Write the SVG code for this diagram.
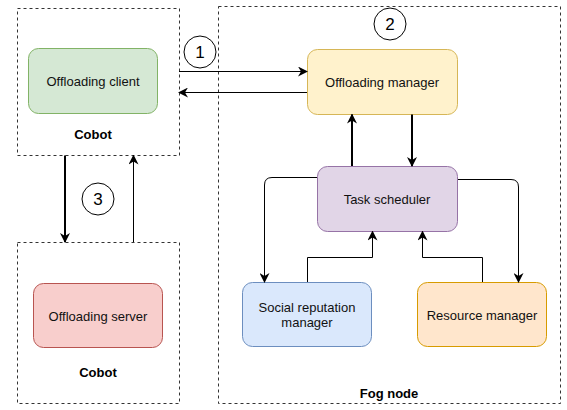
<svg xmlns="http://www.w3.org/2000/svg" width="567" height="410" viewBox="0 0 567 410">
  <style>
    .frame { fill: none; stroke: #333; stroke-width: 1; stroke-dasharray: 3 3; }
    .node { stroke-width: 1; }
    .lbl { font-family: "Liberation Sans", Arial, sans-serif; font-size: 13px; fill: #111; text-anchor: middle; dominant-baseline: central; }
    .title { font-family: "Liberation Sans", Arial, sans-serif; font-size: 13px; font-weight: bold; fill: #000; text-anchor: middle; dominant-baseline: central; }
    .num { font-family: "Liberation Sans", Arial, sans-serif; font-size: 17px; fill: #000; text-anchor: middle; dominant-baseline: central; }
    .badge { fill: #fff; stroke: #000; stroke-width: 1; }
    .wire { fill: none; stroke: #000; stroke-width: 1; }
    .thick { fill: none; stroke: #000; stroke-width: 2; }
  </style>
  <defs>
    <marker id="arrow" viewBox="0 0 10 10" refX="9" refY="5" markerWidth="10" markerHeight="10" markerUnits="userSpaceOnUse" orient="auto">
      <path d="M0,0 L10,5 L0,10 L3,5 Z" fill="#000"/>
    </marker>
  </defs>

  <rect width="567" height="410" fill="#fff"/>

  <!-- containers -->
  <g id="cobot-top">
    <rect class="frame" x="17.5" y="8.5" width="162" height="147"/>
    <text class="title" x="93" y="134">Cobot</text>
  </g>
  <g id="cobot-bottom">
    <rect class="frame" x="17.5" y="242.5" width="162" height="161"/>
    <text class="title" x="98" y="372">Cobot</text>
  </g>
  <g id="fog-node">
    <rect class="frame" x="218.5" y="6.5" width="342" height="397"/>
    <text class="title" x="389" y="393">Fog node</text>
  </g>

  <!-- nodes -->
  <g id="offloading-client">
    <rect class="node" x="28.5" y="48.5" width="129" height="65" rx="10" fill="#d5e8d4" stroke="#82b366"/>
    <text class="lbl" x="93" y="81">Offloading client</text>
  </g>
  <g id="offloading-server">
    <rect class="node" x="33.5" y="283.5" width="129" height="64" rx="10" fill="#f8cecc" stroke="#b85450"/>
    <text class="lbl" x="98" y="316">Offloading server</text>
  </g>
  <g id="offloading-manager">
    <rect class="node" x="307.5" y="49.5" width="150" height="65" rx="10" fill="#fff2cc" stroke="#d6b656"/>
    <text class="lbl" x="382" y="82">Offloading manager</text>
  </g>
  <g id="task-scheduler">
    <rect class="node" x="317.5" y="166.5" width="140" height="65" rx="10" fill="#e1d5e7" stroke="#9673a6"/>
    <text class="lbl" x="387" y="199">Task scheduler</text>
  </g>
  <g id="social-reputation-manager">
    <rect class="node" x="242.5" y="282.5" width="129" height="64" rx="10" fill="#dae8fc" stroke="#6c8ebf"/>
    <text class="lbl" x="307" y="307">Social reputation</text>
    <text class="lbl" x="307" y="322">manager</text>
  </g>
  <g id="resource-manager">
    <rect class="node" x="417.5" y="282.5" width="129" height="64" rx="10" fill="#ffe6cc" stroke="#d79b00"/>
    <text class="lbl" x="482" y="315">Resource manager</text>
  </g>

  <!-- step badges -->
  <g id="step-1">
    <circle class="badge" cx="200" cy="52" r="16"/>
    <text class="num" x="200" y="52">1</text>
  </g>
  <g id="step-2">
    <circle class="badge" cx="390" cy="24" r="16"/>
    <text class="num" x="390" y="24">2</text>
  </g>
  <g id="step-3">
    <circle class="badge" cx="98" cy="199" r="16"/>
    <text class="num" x="98" y="199">3</text>
  </g>

  <!-- connectors -->
  <g id="connectors">
    <path class="wire" d="M179,71.5 H307" marker-end="url(#arrow)"/>
    <path class="wire" d="M307,92.5 H179" marker-end="url(#arrow)"/>
    <path class="thick" d="M65,155.5 V242" marker-end="url(#arrow)"/>
    <path class="wire" d="M133.5,242 V155.5" marker-end="url(#arrow)"/>
    <path class="thick" d="M352,166 V114.5" marker-end="url(#arrow)"/>
    <path class="thick" d="M412,114.5 V166" marker-end="url(#arrow)"/>
    <path class="wire" d="M317,177.5 H272 Q264.5,177.5 264.5,185 V282" marker-end="url(#arrow)"/>
    <path class="wire" d="M458,179.5 H511 Q518.5,179.5 518.5,187 V282" marker-end="url(#arrow)"/>
    <path class="wire" d="M307.5,282 V257.5 H372.5 V231.5" marker-end="url(#arrow)"/>
    <path class="wire" d="M482.5,282 V257.5 H422.5 V231.5" marker-end="url(#arrow)"/>
  </g>
</svg>
